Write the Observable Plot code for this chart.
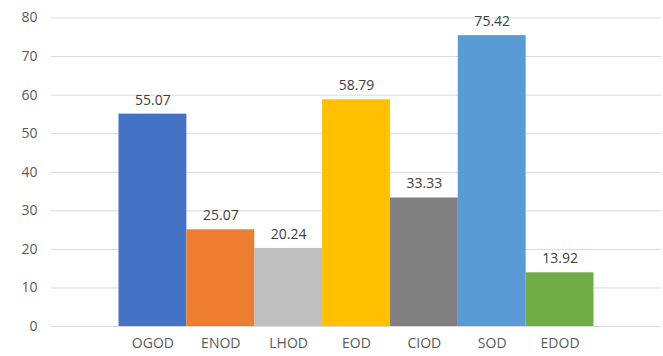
<!DOCTYPE html>
<html>
<head>
<meta charset="utf-8">
<script src="https://cdn.jsdelivr.net/npm/d3@7"></script>
<script src="https://cdn.jsdelivr.net/npm/@observablehq/plot@0.6"></script>
<style>
  html, body { margin: 0; padding: 0; background: #fff; }
  #chart svg { display: block; }
</style>
</head>
<body>
<div id="chart"></div>
<script>
const categories = ["OGOD", "ENOD", "LHOD", "EOD", "CIOD", "SOD", "EDOD"];
const values = [55.07, 25.07, 20.24, 58.79, 33.33, 75.42, 13.92];
const colors = ["#4472C4", "#ED7D31", "#BFBFBF", "#FFC000", "#808080", "#5B9BD5", "#70AD47"];
const yTicks = [0, 10, 20, 30, 40, 50, 60, 70, 80];

const data = categories.map((c, i) => ({cat: c, value: values[i], color: colors[i]}));

const chart = Plot.plot({
  width: 663,
  height: 356,
  marginLeft: 51,
  marginRight: 2,
  marginTop: 17.5,
  marginBottom: 30,
  style: {fontFamily: "'Open Sans', sans-serif", fontSize: "14px", color: "#595959", background: "#fff"},
  x: {domain: categories, padding: 0, round: false, insetLeft: 67.5, insetRight: 67.5, label: null, tickSize: 0, tickPadding: 12},
  y: {domain: [0, 80], ticks: yTicks, label: null, tickSize: 0, tickPadding: 14},
  marks: [
    Plot.ruleY(yTicks, {stroke: "#d9d9d9", strokeWidth: 1}),
    Plot.barY(data, {x: "cat", y: "value", fill: "color"}),
    Plot.text(data, {x: "cat", y: "value", text: d => d.value.toFixed(2), dy: -14, fill: "#404040", fontSize: 14}),
    Plot.axisX({tickSize: 0, tickPadding: 12, fontSize: 14, fill: "#595959"}),
    Plot.axisY({ticks: yTicks, tickSize: 0, tickPadding: 14, fontSize: 14, fill: "#595959", label: null})
  ]
});
document.getElementById("chart").appendChild(chart);
</script>
</body>
</html>
